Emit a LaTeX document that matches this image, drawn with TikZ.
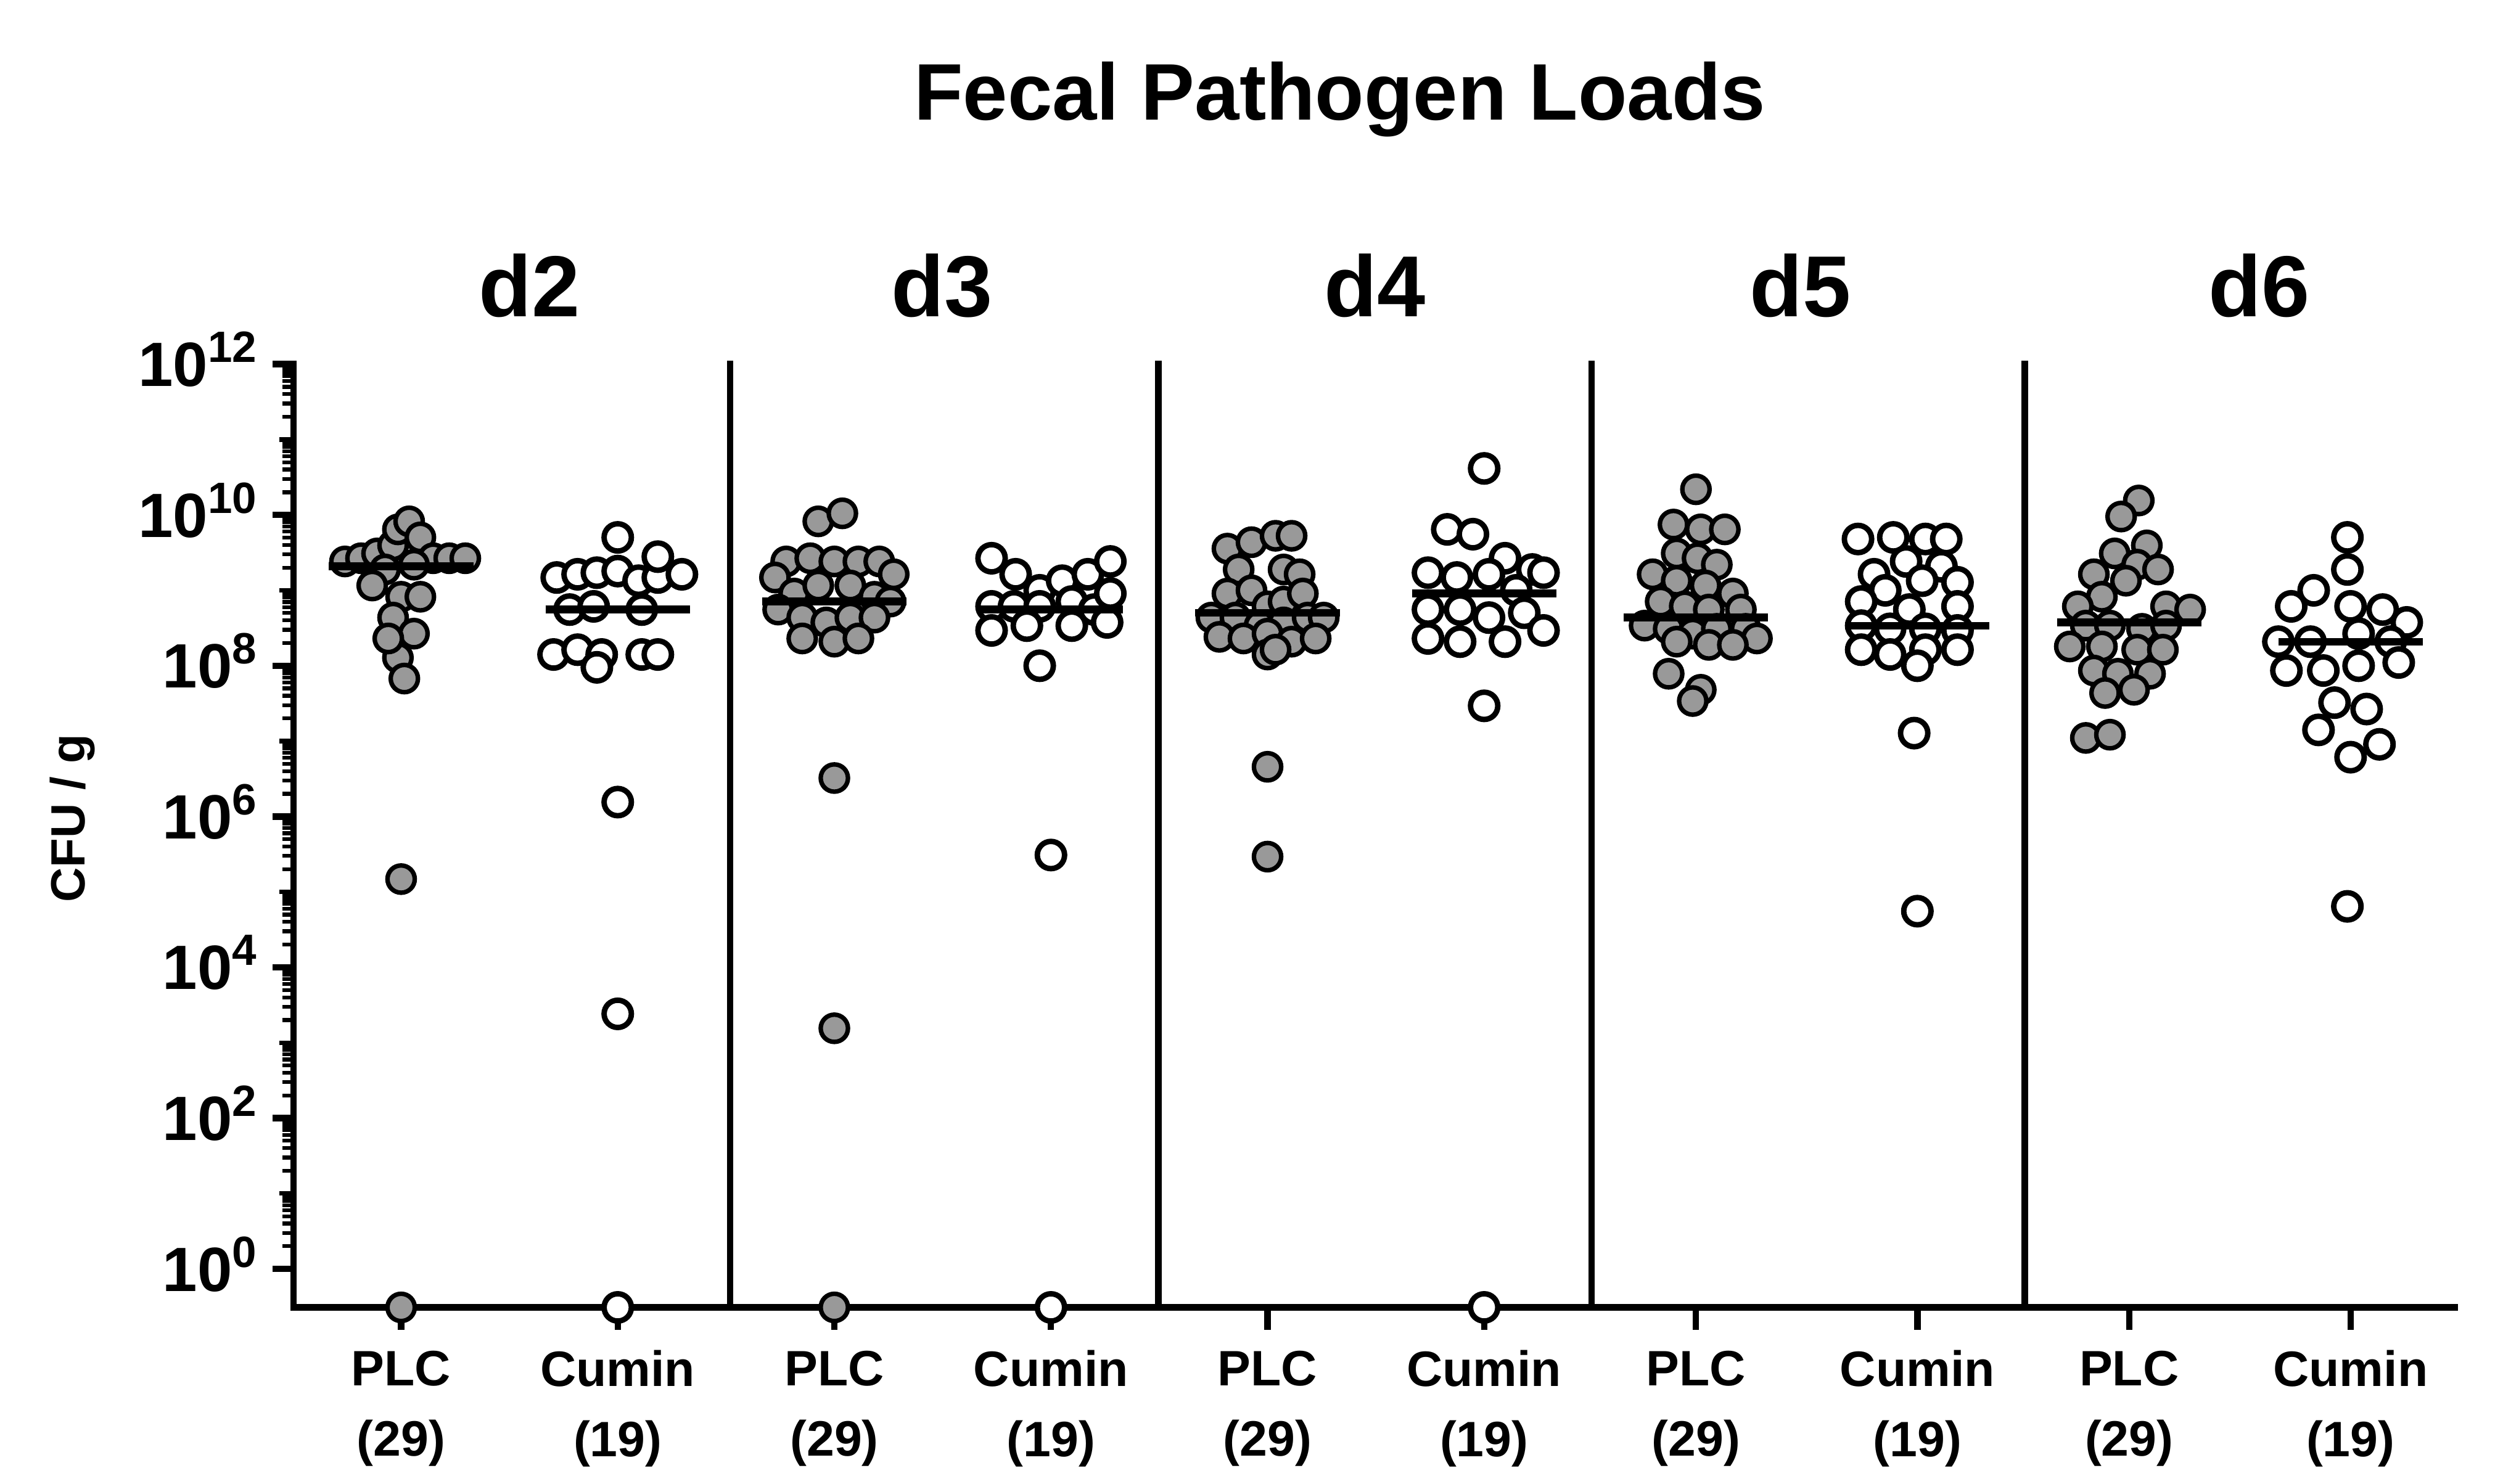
\documentclass[tikz,border=0pt]{standalone}
\usepackage{fontspec}
\setmainfont{Liberation Sans}
\begin{document}
\begin{tikzpicture}[x=0.5pt,y=-0.5pt,
  ax/.style={line width=2pt},
  pl/.style={draw=black,fill=black!40,line width=1.4pt},
  cu/.style={draw=black,fill=white,line width=1.7pt},
  mn/.style={line width=2.4pt},
  tl/.style={font=\bfseries\fontsize{19.5}{23}\selectfont,anchor=east},
  cat/.style={font=\bfseries\fontsize{15.5}{18}\selectfont,align=center},
  hd/.style={font=\bfseries\fontsize{27}{32}\selectfont}]
\useasboundingbox (0,0) rectangle (1560,925);
\node[font=\bfseries\fontsize{25}{30}\selectfont] (title) at (835,62) {Fecal Pathogen Loads};
\foreach \x/\t in {330/d2,587/d3,857/d4,1122/d5,1408/d6} \node[hd] (h\t) at (\x,178) {\t};
\node[rotate=90,font=\bfseries\fontsize{15}{18}\selectfont] (ylab) at (45,510) {CFU / g};
% axes
\draw[ax] (183,225) -- (183,815) -- (1532,815);
\foreach \x in {455,722,992,1262} \draw[ax] (\x,225) -- (\x,815);
\foreach \e in {0,2,...,12} {
  \draw[ax] (170,{791-47*\e}) -- (183,{791-47*\e});
  \node[tl] at (168,{788-47*\e}) {10$^{\mathbf{\e}}$};
}
\foreach \d in {0,...,11} \foreach \k in {2,...,9}
  \draw[line width=1.2pt] (176,{791-47*(\d+log10(\k))}) -- (183,{791-47*(\d+log10(\k))});
\foreach \d in {1,3,...,11} \draw[line width=1.4pt] (174,{791-47*\d}) -- (183,{791-47*\d});
\foreach \x in {250,385,520,655,790,925,1057,1195,1327,1465} \draw[ax] (\x,815) -- (\x,829);
\foreach \x in {250,520,790,1057,1327} \node[cat] at (\x,878) {PLC\\[4pt](29)};
\foreach \x in {385,655,925,1195,1465} \node[cat] at (\x,878) {Cumin\\[4pt](19)};
% d2
\foreach \p in {(215,350),(225,348),(235,345),(245,340),(248,330),(255,325),(262,335),(270,348),(280,348),(290,348),(240,355),(258,352),(232,365),(250,372),(262,372),(245,385),(258,395),(248,410),(252,423),(242,398),(250,548),(250,815)} \draw[pl] \p circle (8.5);
\draw[mn] (205,353) -- (295,353);
\foreach \p in {(347,360),(360,358),(372,357),(385,356),(398,362),(410,360),(425,358),(385,335),(410,347),(355,380),(370,378),(400,380),(345,408),(360,405),(375,408),(400,408),(410,408),(372,416),(385,500),(385,632),(385,815)} \draw[cu] \p circle (8.5);
\draw[mn] (340,380) -- (430,380);
% d3
\foreach \p in {(510,325),(525,320),(490,350),(505,348),(520,350),(535,350),(548,350),(557,358),(483,360),(495,370),(510,365),(530,365),(545,372),(555,375),(485,380),(500,385),(515,388),(530,385),(545,385),(500,398),(520,400),(535,398),(520,485),(520,641),(520,815)} \draw[pl] \p circle (8.5);
\draw[mn] (475,375) -- (565,375);
\foreach \p in {(618,348),(633,358),(648,368),(662,362),(678,358),(692,350),(618,378),(632,378),(648,378),(668,375),(682,380),(692,370),(618,393),(640,390),(668,390),(690,388),(648,415),(655,533),(655,815)} \draw[cu] \p circle (8.5);
\draw[mn] (610,380) -- (700,380);
% d4
\foreach \p in {(765,342),(780,338),(795,334),(805,334),(772,355),(800,355),(810,358),(765,370),(780,368),(790,378),(800,375),(812,370),(755,385),(770,385),(785,390),(800,388),(815,385),(825,385),(760,397),(775,398),(790,395),(805,400),(820,398),(790,408),(795,405),(790,478),(790,534)} \draw[pl] \p circle (8.5);
\draw[mn] (745,382) -- (835,382);
\foreach \p in {(925,292),(902,330),(918,333),(938,348),(955,355),(890,357),(908,360),(928,358),(962,357),(945,368),(890,380),(910,380),(928,385),(950,382),(890,398),(910,400),(938,400),(962,393),(925,440),(925,815)} \draw[cu] \p circle (8.5);
\draw[mn] (880,370) -- (970,370);
% d5
\foreach \p in {(1057,305),(1043,327),(1060,330),(1075,330),(1045,345),(1058,348),(1070,352),(1030,358),(1045,362),(1063,365),(1080,370),(1035,375),(1050,378),(1065,380),(1085,380),(1025,390),(1040,392),(1055,395),(1070,392),(1088,392),(1095,398),(1045,400),(1065,402),(1080,402),(1040,420),(1060,430),(1055,437)} \draw[pl] \p circle (8.5);
\draw[mn] (1012,385) -- (1102,385);
\foreach \p in {(1158,336),(1180,335),(1200,336),(1213,336),(1188,350),(1210,353),(1168,358),(1198,362),(1220,363),(1175,368),(1160,375),(1190,380),(1220,378),(1160,390),(1178,392),(1200,392),(1220,393),(1160,405),(1178,408),(1200,405),(1220,405),(1195,415),(1193,457),(1195,568)} \draw[cu] \p circle (8.5);
\draw[mn] (1150,390) -- (1240,390);
% d6
\foreach \p in {(1333,312),(1322,322),(1338,340),(1318,345),(1332,352),(1345,355),(1305,358),(1325,362),(1310,372),(1295,378),(1350,378),(1365,380),(1300,390),(1315,390),(1335,392),(1350,390),(1290,403),(1310,403),(1332,405),(1348,405),(1305,418),(1320,420),(1340,420),(1312,432),(1330,430),(1300,460),(1315,458)} \draw[pl] \p circle (8.5);
\draw[mn] (1282,388) -- (1372,388);
\foreach \p in {(1463,335),(1463,355),(1442,368),(1428,378),(1465,378),(1485,380),(1500,388),(1420,400),(1440,400),(1470,395),(1490,400),(1425,418),(1448,418),(1470,415),(1495,413),(1455,438),(1475,442),(1445,455),(1483,464),(1465,472),(1463,565)} \draw[cu] \p circle (8.5);
\draw[mn] (1420,400) -- (1510,400);
\end{tikzpicture}
\end{document}
